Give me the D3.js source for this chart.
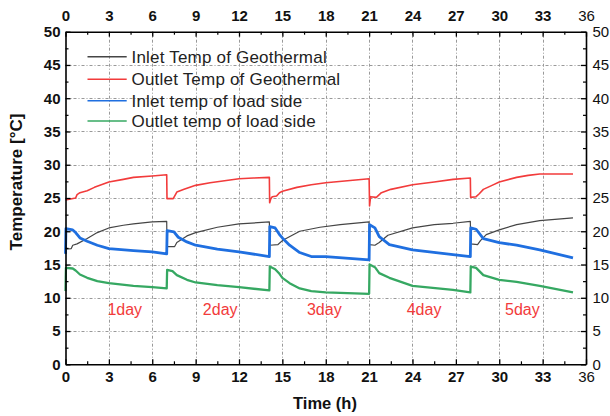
<!DOCTYPE html>
<html><head><meta charset="utf-8">
<script src="https://cdn.jsdelivr.net/npm/d3@7"></script>
<style>
html,body{margin:0;padding:0;background:#fff;}
svg{display:block;font-family:"Liberation Sans",Arial,sans-serif;}
</style></head>
<body><svg id="c" width="610" height="416"></svg>
<script>
// ---- data ----
const seriesNames = ["Inlet Temp of Geothermal","Outlet Temp of Geothermal","Inlet temp of load side","Outlet temp of load side"];
const seriesColors = ["#454545","#f23b3b","#1f6fe0","#36a862"];

const inletGeoT = [0,0.4,0.5,0.8,1.5,2.2,3,4,4.7,6,7.0,7.02,7.55,7.7,8.4,9,10.5,12,14.1,14.12,14.7,15,16.2,17.6,19,21,21.02,21.4,21.7,22.3,24,25.5,26.8,28,28.02,28.5,28.7,29.1,30,31.2,32.8,35.1];
const inletGeoV = [17.3,17.4,17.9,18.1,18.9,19.8,20.5,20.9,21.1,21.4,21.5,17.7,17.7,18.3,19.3,19.8,20.6,21.1,21.4,17.9,18.0,18.6,20.0,20.6,21.0,21.4,18.0,17.9,18.3,19.4,20.5,21.0,21.2,21.5,18.1,18.0,18.6,19.5,20.2,21.0,21.6,22.0];

const outletGeoT = [0,0.7,0.8,1.0,1.5,2,3,4,4.7,6,7.0,7.02,7.45,7.7,8.2,9,10,11,12,13,14.1,14.12,14.2,14.3,14.6,14.8,15,16,17,18,19.5,21.0,21.03,21.1,21.5,21.85,22.5,24,25.5,26.8,28.0,28.02,28.4,28.6,28.9,29.5,30,31.2,32.0,32.8,35.1];
const outletGeoV = [24.7,25.0,25.5,25.8,26.1,26.6,27.4,27.8,28.1,28.3,28.5,24.9,24.9,25.9,26.3,26.9,27.3,27.6,27.9,28.0,28.1,24.3,24.9,25.2,25.3,25.8,26.0,26.6,27.0,27.3,27.6,27.9,23.8,25.2,25.1,25.8,26.3,27.0,27.4,27.8,28.0,25.1,25.2,25.6,26.3,26.9,27.4,28.1,28.4,28.6,28.6];

const inletLoadT = [0,0.03,0.5,0.7,1.0,1.5,2.2,3,4.7,6,7.0,7.03,7.5,7.8,8.4,9,10.5,12,14.1,14.13,14.5,14.8,15,15.5,16.2,17,18,21,21.03,21.4,21.7,22.4,24,26.8,28,28.03,28.4,28.9,30,31.2,32.8,35.1];
const inletLoadV = [16.6,20.4,20.2,19.8,19.0,18.5,17.9,17.4,17.1,16.9,16.6,20.1,19.9,19.1,18.4,17.9,17.3,16.9,16.2,20.7,20.5,19.5,19.0,17.9,16.8,16.2,16.2,15.7,21.0,20.5,19.2,18.0,17.2,16.5,16.2,20.5,20.3,18.9,18.3,17.9,17.2,16.0];

const outletLoadT = [0,0.03,0.5,0.7,1.0,1.5,2.2,3,4.7,6,7.0,7.03,7.4,7.7,8.4,9,10.5,12,14.1,14.13,14.5,14.8,15,15.5,16.2,17,18,21,21.03,21.4,21.7,22.4,24,26.8,28,28.03,28.4,28.9,30,31.2,32.8,35.1];
const outletLoadV = [11.0,14.5,14.4,14.1,13.5,13.0,12.5,12.2,11.8,11.6,11.4,14.2,14.0,13.4,12.7,12.3,11.9,11.6,11.1,14.7,14.3,13.6,13.0,12.2,11.4,11.0,10.8,10.6,15.0,14.6,13.7,13.0,11.8,11.2,10.8,14.7,14.5,13.4,12.7,12.4,11.8,10.8];

const dayLabels = ["1day","2day","3day","4day","5day"];
const dayLabelT = [4.1,10.7,17.9,24.8,31.6];
const dayLabelV = 7.4;

const xTicks = [0,3,6,9,12,15,18,21,24,27,30,33,36];
const xMinor = [1.5,4.5,7.5,10.5,13.5,16.5,19.5,22.5,25.5,28.5,31.5,34.5];
const yTicks = [0,5,10,15,20,25,30,35,40,45,50];
const yMinor = [2.5,7.5,12.5,17.5,22.5,27.5,32.5,37.5,42.5,47.5];

// ---- drawing ----
const svg = d3.select("#c");
const L = 65.5, R = 586, T = 31.7, B = 364.3;
const x = d3.scaleLinear().domain([0,36]).range([L,R]);
const y = d3.scaleLinear().domain([0,50]).range([B,T]);

// grid
const grid = svg.append("g").attr("stroke","#999").attr("stroke-width",1).attr("stroke-dasharray","3,2,1,2");
grid.selectAll("line.v").data(xTicks.filter(d=>d>0&&d<36)).join("line")
  .attr("x1",d=>Math.round(x(d))+0.5).attr("x2",d=>Math.round(x(d))+0.5).attr("y1",T).attr("y2",B);
grid.selectAll("line.h").data(yTicks.filter(d=>d>0&&d<50)).join("line")
  .attr("y1",d=>Math.round(y(d))+0.5).attr("y2",d=>Math.round(y(d))+0.5).attr("x1",L).attr("x2",R);

// series
const series = [
  {t:inletGeoT, v:inletGeoV, w:1.2},
  {t:outletGeoT, v:outletGeoV, w:1.6},
  {t:inletLoadT, v:inletLoadV, w:2.8},
  {t:outletLoadT, v:outletLoadV, w:2.3}
];
const line = d3.line().x(d=>x(d[0])).y(d=>y(d[1]));
series.forEach((s,i)=>{
  const pts = s.t.map((t,j)=>[t,s.v[j]]);
  svg.append("path").datum(pts).attr("d",line).attr("fill","none")
    .attr("stroke",seriesColors[i]).attr("stroke-width",s.w).attr("stroke-linejoin","round");
});

// axes
function styleAxis(g, bold){
  g.select(".domain").attr("stroke","#000").attr("stroke-width",1.6);
  g.selectAll(".tick line").attr("stroke","#000").attr("stroke-width",1.3);
  g.selectAll(".tick text").attr("fill","#111").style("font-size","15px")
    .style("font-family","'Liberation Sans',Arial,sans-serif")
    .style("font-weight",d=> (bold && d!==36) ? "bold" : "normal");
}
const fmt = d3.format("d");
const xb = svg.append("g").attr("transform",`translate(0,${B})`)
  .call(d3.axisBottom(x).tickValues(xTicks).tickSize(-5).tickPadding(7).tickSizeOuter(0).tickFormat(fmt));
styleAxis(xb,true);
const xt = svg.append("g").attr("transform",`translate(0,${T})`)
  .call(d3.axisTop(x).tickValues(xTicks).tickSize(-5).tickPadding(11).tickSizeOuter(0).tickFormat(fmt));
styleAxis(xt,true);
const yl = svg.append("g").attr("transform",`translate(${L},0)`)
  .call(d3.axisLeft(y).tickValues(yTicks).tickSize(-5).tickPadding(5).tickSizeOuter(0).tickFormat(fmt));
styleAxis(yl,true);
const yr = svg.append("g").attr("transform",`translate(${R},0)`)
  .call(d3.axisRight(y).tickValues(yTicks).tickSize(-5).tickPadding(6.5).tickSizeOuter(0).tickFormat(fmt));
styleAxis(yr,false);

// minor ticks
[[d3.axisBottom(x),`translate(0,${B})`,xMinor],[d3.axisTop(x),`translate(0,${T})`,xMinor],
 [d3.axisLeft(y),`translate(${L},0)`,yMinor],[d3.axisRight(y),`translate(${R},0)`,yMinor]].forEach(([ax,tr,vals])=>{
  const g = svg.append("g").attr("transform",tr)
    .call(ax.tickValues(vals).tickSize(-3).tickSizeOuter(0).tickFormat(""));
  g.select(".domain").remove();
  g.selectAll(".tick line").attr("stroke","#000").attr("stroke-width",1.2);
});

// legend
const legY = [56.7,79.3,100.7,121];
const leg = svg.append("g");
seriesNames.forEach((n,i)=>{
  leg.append("line").attr("x1",87.5).attr("x2",126.7).attr("y1",legY[i]).attr("y2",legY[i])
    .attr("stroke",seriesColors[i]).attr("stroke-width",1.5);
  leg.append("text").attr("x",131.5).attr("y",legY[i]+6).text(n)
    .attr("fill","#222").style("font-size","17px").style("letter-spacing","0.2px");
});

// day labels
svg.append("g").selectAll("text").data(dayLabels).join("text")
  .attr("x",(d,i)=>x(dayLabelT[i])).attr("y",y(dayLabelV)).attr("text-anchor","middle")
  .attr("fill","#f23b3b").style("font-size","16px").text(d=>d);

// axis titles
svg.append("text").attr("x",325).attr("y",409).attr("text-anchor","middle")
  .style("font-size","16.5px").style("font-weight","bold").attr("fill","#111").text("Time (h)");
svg.append("text").attr("transform","translate(22,182) rotate(-90)").attr("text-anchor","middle")
  .style("font-size","17px").style("font-weight","bold").attr("fill","#111").text("Temperature [°C]");
</script></body></html>
